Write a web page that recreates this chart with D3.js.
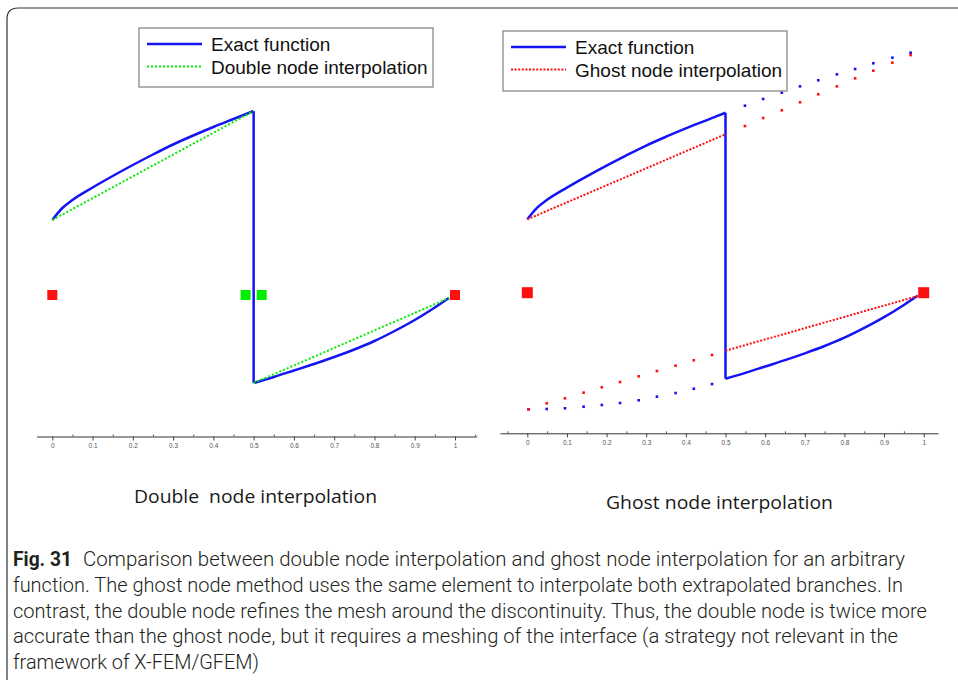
<!DOCTYPE html>
<html>
<head>
<meta charset="utf-8">
<script src="https://cdn.jsdelivr.net/npm/d3@7"></script>
<style>
    body { margin: 0; background: #fff; }
</style>
</head>
<body>
<svg id="fig" width="958" height="680"></svg>
<script>
// exact function, both branches
const upperX = [0, 0.025, 0.05, 0.1, 0.15, 0.2, 0.25, 0.3, 0.35, 0.4, 0.45, 0.5];
const upperExact = [0.75, 0.87, 0.95, 1.075, 1.19, 1.30, 1.405, 1.505, 1.595, 1.68, 1.76, 1.84];
const lowerX = [0.5, 0.55, 0.6, 0.65, 0.7, 0.75, 0.8, 0.85, 0.9, 0.95, 0.985];
const lowerExact = [-0.88, -0.82, -0.755, -0.69, -0.62, -0.545, -0.46, -0.36, -0.25, -0.125, -0.03];

// double node interpolation (left)
const doubleUpperX = [0, 0.5];
const doubleUpper = [0.75, 1.84];
const doubleLowerX = [0.5, 0.985];
const doubleLower = [-0.88, -0.03];
const doubleNodesRed = [0, 1];
const doubleNodesGreen = [0.48, 0.52];

// ghost node interpolation (right)
const ghostUpperX = [0, 0.5];
const ghostUpper = [0.75, 1.62];
const ghostLowerX = [0.5, 0.985];
const ghostLower = [-0.593, -0.034];
const ghostNodes = [0, 1];

// extrapolated branches, drawn as sparse points
const extUpperX = [0.549, 0.595, 0.642, 0.688, 0.734, 0.781, 0.827, 0.873, 0.921, 0.967];
const exactUpperExt = [1.912, 1.981, 2.045, 2.110, 2.172, 2.233, 2.287, 2.346, 2.403, 2.454];
const ghostUpperExt = [1.704, 1.786, 1.865, 1.947, 2.029, 2.110, 2.192, 2.270, 2.352, 2.430];
const extLowerX = [0.003, 0.049, 0.095, 0.142, 0.188, 0.234, 0.281, 0.327, 0.374, 0.420, 0.466];
const exactLowerExt = [-1.192, -1.189, -1.182, -1.166, -1.148, -1.128, -1.100, -1.063, -1.026, -0.982, -0.934];
const ghostLowerExt = [-1.192, -1.131, -1.080, -1.022, -0.967, -0.913, -0.855, -0.801, -0.746, -0.691, -0.637];

const majorTicks = [0, 0.1, 0.2, 0.3, 0.4, 0.5, 0.6, 0.7, 0.8, 0.9, 1];
const tickLabels = ["0", "0.1", "0.2", "0.3", "0.4", "0.5", "0.6", "0.7", "0.8", "0.9", "1"];
const minorTicks = [-0.05, 0.05, 0.15, 0.25, 0.35, 0.45, 0.55, 0.65, 0.75, 0.85, 0.95, 1.05];

const captionLines = [
    "Comparison between double node interpolation and ghost node interpolation for an arbitrary",
    "function. The ghost node method uses the same element to interpolate both extrapolated branches. In",
    "contrast, the double node refines the mesh around the discontinuity. Thus, the double node is twice more",
    "accurate than the ghost node, but it requires a meshing of the interface (a strategy not relevant in the",
    "framework of X-FEM/GFEM)"
];

const BLUE = "#1414f5", GREEN = "#00ee00", RED = "#ff1010";

const svg = d3.select("#fig");
const zip = (xs, ys) => xs.map((x, i) => [x, ys[i]]);

// outer frame with rounded top-left corner
svg.append("path")
    .attr("d", "M7,690 L7,19 Q7,8 18,8 L970,8")
    .attr("fill", "none")
    .attr("stroke", "#333")
    .attr("stroke-width", 1.2);

function drawAxis(g, x, y0, lo, hi) {
    let axisScale = d3.scaleLinear().domain([lo, hi]).range([x(lo), x(hi)]);
    let major = g.append("g")
        .attr("transform", "translate(0," + y0 + ")")
        .call(d3.axisBottom(axisScale)
            .tickValues(majorTicks)
            .tickSizeInner(4)
            .tickSizeOuter(0)
            .tickPadding(3)
            .tickFormat((d, i) => tickLabels[i]));
    major.select(".domain").attr("stroke", "#333");
    major.selectAll(".tick line").attr("stroke", "#444");
    major.selectAll(".tick text")
        .attr("fill", "#555")
        .style("font-family", "Liberation Sans, Arial, sans-serif")
        .style("font-size", "6.5px");
    g.append("g")
        .attr("transform", "translate(0," + y0 + ")")
        .call(d3.axisTop(axisScale)
            .tickValues(minorTicks.filter(t => t > lo && t < hi))
            .tickSize(2)
            .tickFormat(""))
        .call(a => a.select(".domain").remove())
        .selectAll(".tick line").attr("stroke", "#555");
}

function squares(g, x, y, xs, ys, size, color) {
    g.selectAll(null)
        .data(zip(xs, ys))
        .enter()
        .append("rect")
        .attr("x", d => x(d[0]) - size / 2)
        .attr("y", d => y(d[1]) - size / 2)
        .attr("width", size)
        .attr("height", size)
        .attr("fill", color);
}

// exact function: two smooth branches joined by the vertical jump at x = 0.5
function exactCurve(g, x, y) {
    let smooth = d3.line().x(d => x(d[0])).y(d => y(d[1])).curve(d3.curveMonotoneX);
    let straight = d3.line().x(d => x(d[0])).y(d => y(d[1]));
    let jump = [[0.5, upperExact[upperExact.length - 1]], [0.5, lowerExact[0]]];
    [smooth(zip(upperX, upperExact)), straight(jump), smooth(zip(lowerX, lowerExact))].forEach(function (d) {
        g.append("path")
            .attr("d", d)
            .attr("fill", "none")
            .attr("stroke", BLUE)
            .attr("stroke-width", 2.5)
            .attr("stroke-linejoin", "round");
    });
}

function drawLegend(g, bx, by, bw, bh, label2, color2, dash2) {
    g.append("rect")
        .attr("x", bx).attr("y", by)
        .attr("width", bw).attr("height", bh)
        .attr("fill", "#fff")
        .attr("stroke", "#888")
        .attr("stroke-width", 1.3);
    let rows = [
        {label: "Exact function", color: BLUE, dash: null, width: 2.5},
        {label: label2, color: color2, dash: dash2, width: 2}
    ];
    rows.forEach(function (r, i) {
        let ly = by + 16 + i * 22.5;
        g.append("line")
            .attr("x1", bx + 8).attr("x2", bx + 63)
            .attr("y1", ly).attr("y2", ly)
            .attr("stroke", r.color)
            .attr("stroke-width", r.width)
            .attr("stroke-dasharray", r.dash);
        g.append("text")
            .attr("x", bx + 72)
            .attr("y", ly + 7)
            .attr("fill", "#111")
            .style("font-family", "Liberation Sans, Arial, sans-serif")
            .style("font-size", "19px")
            .text(r.label);
    });
}

// ---------- left panel: double node ----------
let xL = d3.scaleLinear().domain([0, 1]).range([52.3, 455]);
let yL = d3.scaleLinear().domain([0, 1]).range([295, 195]);
let left = svg.append("g");
let line = d3.line().x(d => xL(d[0])).y(d => yL(d[1]));

drawAxis(left, xL, 436.5, -0.039, 1.054);

exactCurve(left, xL, yL);

[zip(doubleUpperX, doubleUpper), zip(doubleLowerX, doubleLower)].forEach(function (seg) {
    left.append("path")
        .attr("d", line(seg))
        .attr("fill", "none")
        .attr("stroke", GREEN)
        .attr("stroke-width", 2)
        .attr("stroke-dasharray", "2,2");
});

squares(left, xL, yL, doubleNodesRed, [0, 0], 10, RED);
squares(left, xL, yL, doubleNodesGreen, [0, 0], 10, GREEN);

drawLegend(left, 139, 28, 294, 59, "Double node interpolation", GREEN, "2,2");

// ---------- right panel: ghost node ----------
let xR = d3.scaleLinear().domain([0, 1]).range([527.3, 923.7]);
let yR = d3.scaleLinear().domain([0, 1]).range([292.7, 194.9]);
let right = svg.append("g");
let lineR = d3.line().x(d => xR(d[0])).y(d => yR(d[1]));

drawAxis(right, xR, 433.3, -0.069, 1.036);

squares(right, xR, yR, extUpperX, exactUpperExt, 2.6, BLUE);
squares(right, xR, yR, extLowerX, exactLowerExt, 2.6, BLUE);
squares(right, xR, yR, extUpperX, ghostUpperExt, 2.6, RED);
squares(right, xR, yR, extLowerX, ghostLowerExt, 2.6, RED);

exactCurve(right, xR, yR);

[zip(ghostUpperX, ghostUpper), zip(ghostLowerX, ghostLower)].forEach(function (seg) {
    right.append("path")
        .attr("d", lineR(seg))
        .attr("fill", "none")
        .attr("stroke", RED)
        .attr("stroke-width", 2)
        .attr("stroke-dasharray", "2,1.6");
});

squares(right, xR, yR, ghostNodes, [0, 0], 11, RED);

drawLegend(right, 503, 31, 284, 60, "Ghost node interpolation", RED, "2,1.6");

// ---------- sub titles ----------
svg.append("text")
    .attr("x", 134).attr("y", 503)
    .attr("textLength", 243)
    .attr("lengthAdjust", "spacingAndGlyphs")
    .attr("fill", "#1a1a1a")
    .style("font-family", "Open Sans, Noto Sans, sans-serif")
    .style("font-size", "18px")
    .style("white-space", "pre")
    .text("Double  node interpolation");

svg.append("text")
    .attr("x", 606).attr("y", 509)
    .attr("textLength", 227)
    .attr("lengthAdjust", "spacingAndGlyphs")
    .attr("fill", "#1a1a1a")
    .style("font-family", "Open Sans, Noto Sans, sans-serif")
    .style("font-size", "18px")
    .text("Ghost node interpolation");

// ---------- caption ----------
const captionFont = "Liberation Sans Narrow, Roboto, sans-serif";
const lineEnds = [905, 903, 927, 898, 259];

svg.append("text")
    .attr("x", 13).attr("y", 566)
    .attr("textLength", 59)
    .attr("lengthAdjust", "spacingAndGlyphs")
    .attr("fill", "#231f20")
    .style("font-family", captionFont)
    .style("font-size", "19.5px")
    .style("font-weight", "bold")
    .text("Fig. 31");

captionLines.forEach(function (t, i) {
    let x0 = i === 0 ? 83 : 13;
    svg.append("text")
        .attr("x", x0)
        .attr("y", 566 + i * 25.8)
        .attr("textLength", lineEnds[i] - x0)
        .attr("lengthAdjust", "spacingAndGlyphs")
        .attr("fill", "#231f20")
        .style("font-family", captionFont)
        .style("font-size", "19.5px")
        .style("font-weight", "300")
        .text(t);
});
</script>
</body>
</html>
